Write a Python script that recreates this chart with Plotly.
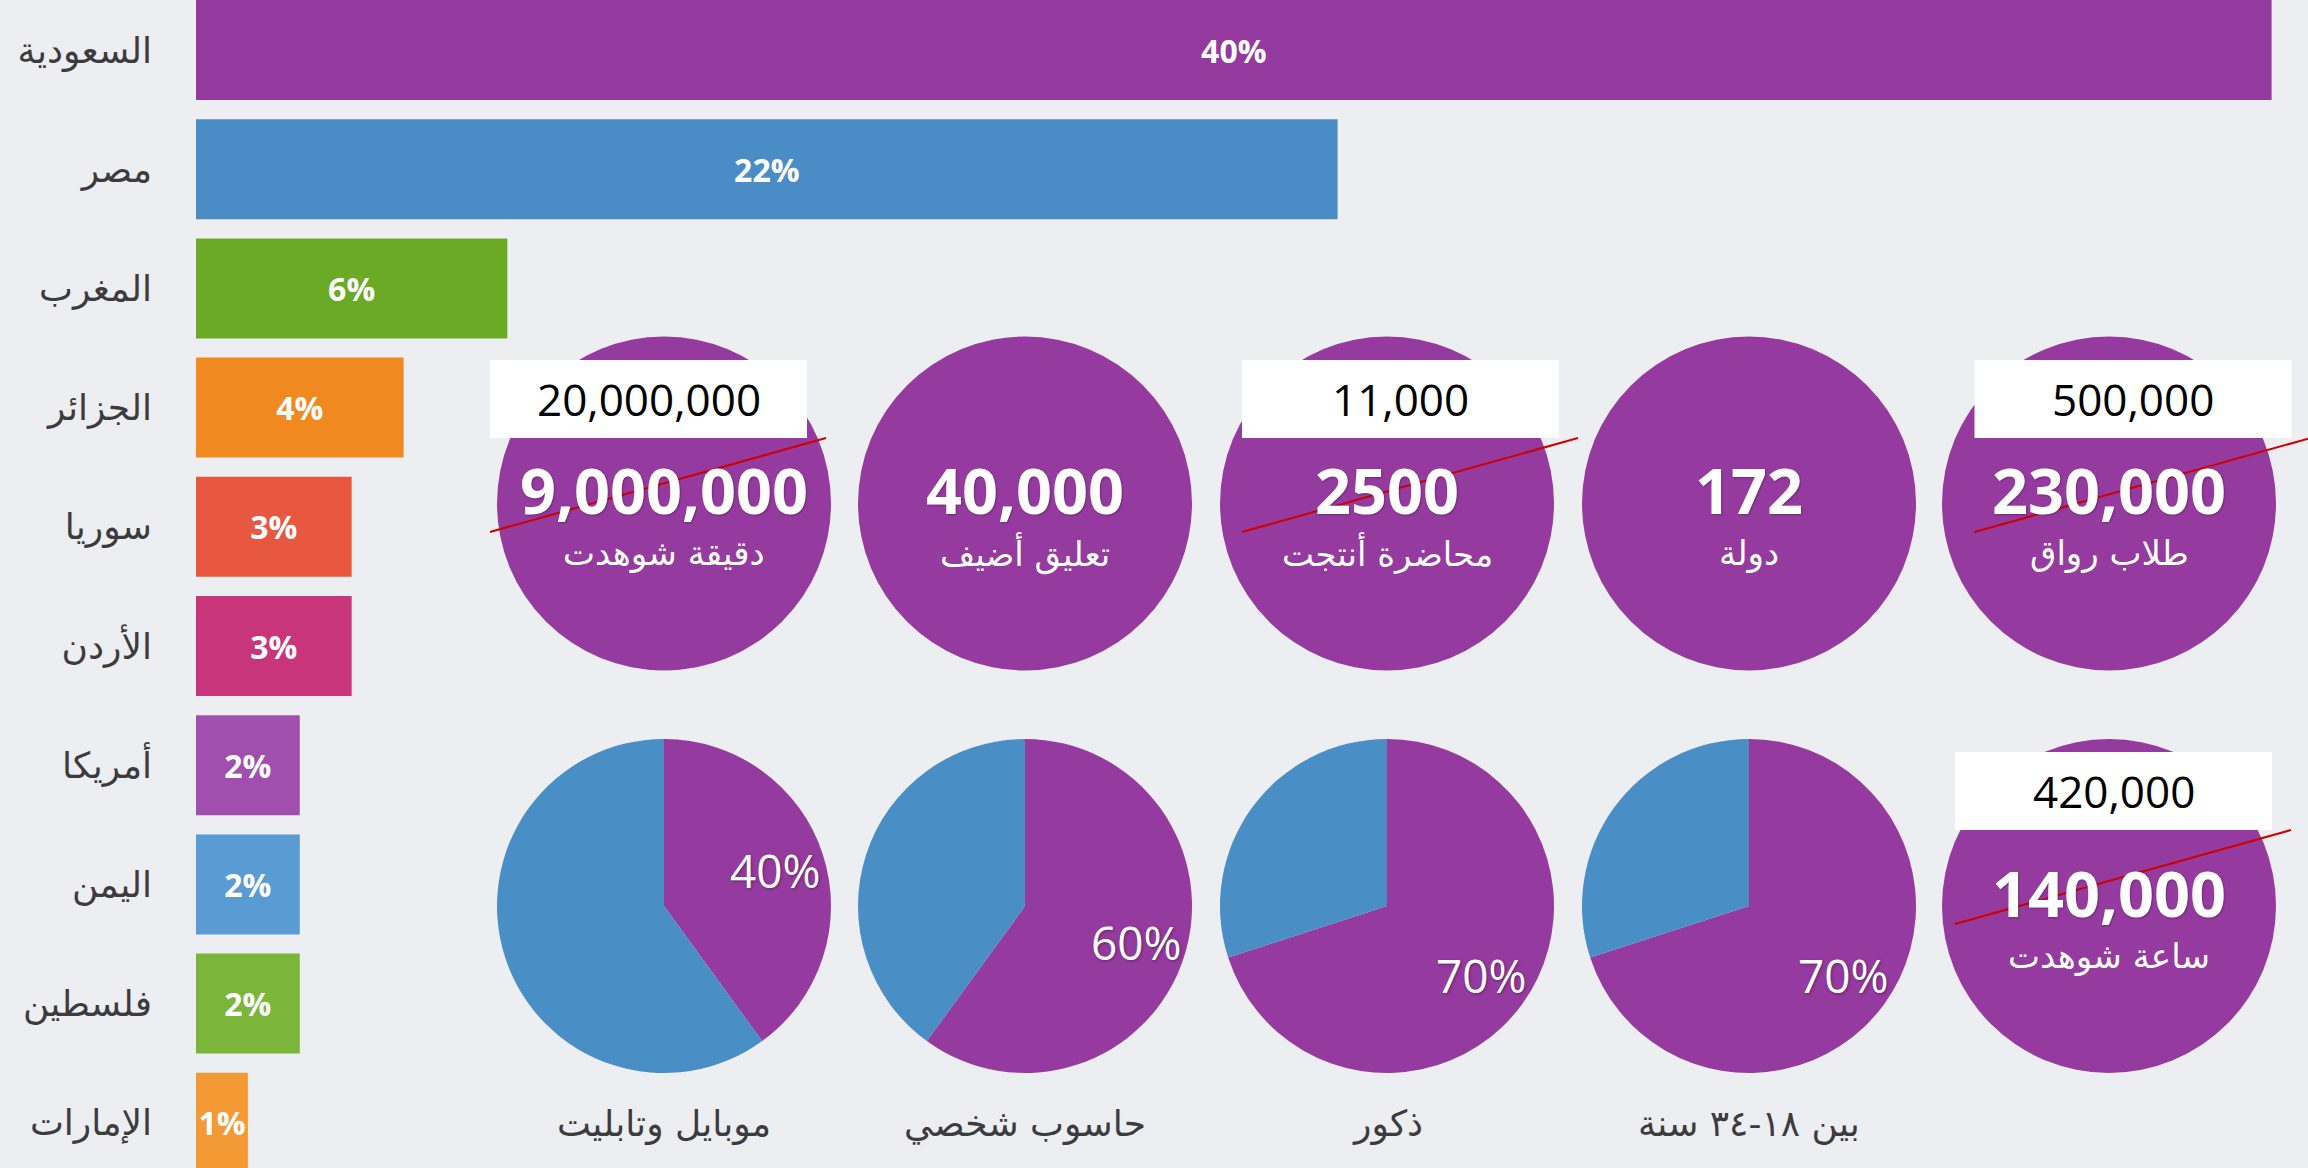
import math
import plotly.graph_objects as go

# ---------------- data ----------------
countries = ["السعودية", "مصر", "المغرب", "الجزائر", "سوريا", "الأردن",
             "أمريكا", "اليمن", "فلسطين", "الإمارات"]
shares = [40, 22, 6, 4, 3, 3, 2, 2, 2, 1]
bar_colors = ["#94399E", "#4A8DC6", "#6AAA25", "#F08A20", "#E8573F",
              "#C8357A", "#A04FAF", "#5B9BD3", "#7BB63B", "#F39A34"]

stat_numbers = ["9,000,000", "40,000", "2500", "172", "230,000", "140,000"]
stat_captions = ["دقيقة شوهدت", "تعليق أضيف", "محاضرة أنتجت", "دولة", "طلاب رواق", "ساعة شوهدت"]
updated_numbers = ["20,000,000", "", "11,000", "", "500,000", "420,000"]

pie_shares = [40, 60, 70, 70]
pie_captions = ["موبايل وتابليت", "حاسوب شخصي", "ذكور", "بين ١٨-٣٤ سنة"]

# ---------------- layout / style ----------------
W, H = 2308, 1168
PURPLE = "#953A9F"
BLUE = "#4A8EC6"
BG = "#EDEEF1"
TEXT_DARK = "#3C3C3E"

col_x = [664, 1025, 1387, 1749, 2109]
row_y = [503.5, 906]
DIAM = 334
stat_slots = [(0, 0), (1, 0), (2, 0), (3, 0), (4, 0), (4, 1)]
pie_slots = [(0, 1), (1, 1), (2, 1), (3, 1)]
box_dx = [-15.5, 0, 13.5, 0, 24, 4.5]
box_top_dy = [-143.5, 0, -143.5, 0, -143.5, -154]
BOX_W, BOX_H = 317, 78
PIE_LABEL_R = 0.7

bar_x0 = 196
px_per_pct = 51.89
bar_c0 = 50
bar_pitch = 119.2


def px(x):
    return x / W


def py(y):
    return 1 - y / H


def domain(cx, cy):
    r = DIAM / 2
    return dict(x=[px(cx - r), px(cx + r)], y=[py(cy + r), py(cy - r)])


fig = go.Figure()

# horizontal bars
fig.add_trace(go.Bar(
    x=shares, y=countries, orientation="h",
    marker=dict(color=bar_colors, line=dict(width=0)),
    text=[f"{v}%" for v in shares], textposition="inside", textangle=0,
    insidetextanchor="middle", constraintext="none",
    textfont=dict(family="Open Sans", size=32, color="white", weight="bold"),
    hoverinfo="skip", showlegend=False,
))

# statistic circles
for (c, r), num, cap in zip(stat_slots, stat_numbers, stat_captions):
    cx, cy = col_x[c], row_y[r]
    fig.add_trace(go.Pie(
        values=[1], marker=dict(colors=[PURPLE], line=dict(width=0)),
        textinfo="none", hoverinfo="skip", showlegend=False, sort=False,
        domain=domain(cx, cy),
    ))
    fig.add_annotation(x=px(cx), y=py(cy - 14), xref="paper", yref="paper",
                       text=num, showarrow=False, xanchor="center", yanchor="middle",
                       font=dict(family="Open Sans", size=63, color="white", weight="bold",
                                 shadow="1px 1px 2px rgba(0,0,0,0.25)"))
    fig.add_annotation(x=px(cx), y=py(cy + 50), xref="paper", yref="paper",
                       text=cap, showarrow=False, xanchor="center", yanchor="middle",
                       font=dict(family="DejaVu Sans", size=34, color="white"))

# pies
for (c, r), v, cap in zip(pie_slots, pie_shares, pie_captions):
    cx, cy = col_x[c], row_y[r]
    fig.add_trace(go.Pie(
        values=[v, 100 - v], sort=False, direction="clockwise", rotation=0,
        marker=dict(colors=[PURPLE, BLUE], line=dict(width=0)),
        textinfo="none", hoverinfo="skip", showlegend=False,
        domain=domain(cx, cy),
    ))
    # percentage label placed along the middle angle of the purple slice
    mid = math.radians(v / 100 * 360 / 2)
    lx = cx + PIE_LABEL_R * DIAM / 2 * math.sin(mid)
    ly = cy - PIE_LABEL_R * DIAM / 2 * math.cos(mid)
    fig.add_annotation(x=px(lx), y=py(ly), xref="paper", yref="paper",
                       text=f"{v}%", showarrow=False, xanchor="center", yanchor="middle",
                       font=dict(family="Open Sans", size=46, color="white",
                                 shadow="1px 1px 3px rgba(0,0,0,0.35)"))
    fig.add_annotation(x=px(cx), y=py(1124), xref="paper", yref="paper",
                       text=cap, showarrow=False, xanchor="center", yanchor="middle",
                       font=dict(family="DejaVu Sans", size=36, color=TEXT_DARK))

# white boxes with updated numbers and red strike lines
shapes = []
for (c, r), upd, dx, dy in zip(stat_slots, updated_numbers, box_dx, box_top_dy):
    if not upd:
        continue
    cx, cy = col_x[c], row_y[r]
    bx0 = cx + dx - BOX_W / 2
    by0 = cy + dy
    shapes.append(dict(type="rect", xref="paper", yref="paper",
                       x0=px(bx0), x1=px(bx0 + BOX_W), y0=py(by0 + BOX_H), y1=py(by0),
                       fillcolor="white", line=dict(width=0), layer="above"))
    shapes.append(dict(type="line", xref="paper", yref="paper",
                       x0=px(bx0), y0=py(by0 + BOX_H + 94), x1=px(bx0 + 336), y1=py(by0 + BOX_H),
                       line=dict(color="#CC0000", width=2), layer="above"))
    fig.add_annotation(x=px(bx0 + BOX_W / 2), y=py(by0 + BOX_H / 2), xref="paper", yref="paper",
                       text=upd, showarrow=False, xanchor="center", yanchor="middle",
                       font=dict(family="Open Sans", size=44, color="black"))

n = len(countries)
fig.update_layout(
    width=W, height=H,
    margin=dict(l=0, r=0, t=0, b=0),
    paper_bgcolor=BG, plot_bgcolor="rgba(0,0,0,0)",
    bargap=1 - 100 / bar_pitch,
    shapes=shapes,
    xaxis=dict(domain=[px(bar_x0), 1], range=[0, (W - bar_x0) / px_per_pct],
               showgrid=False, zeroline=False, showticklabels=False, showline=False),
    yaxis=dict(type="category", categoryorder="array", categoryarray=countries,
               range=[(n - 1) + (H - (bar_c0 + (n - 1) * bar_pitch)) / bar_pitch, -bar_c0 / bar_pitch],
               showgrid=False, zeroline=False, showline=False, ticks="",
               ticklabelstandoff=43,
               tickfont=dict(family="DejaVu Sans", size=36, color=TEXT_DARK)),
)

fig.write_html("out.html", config={"displayModeBar": False},
               post_script="document.body.style.margin='0';document.body.style.overflow='hidden';")
